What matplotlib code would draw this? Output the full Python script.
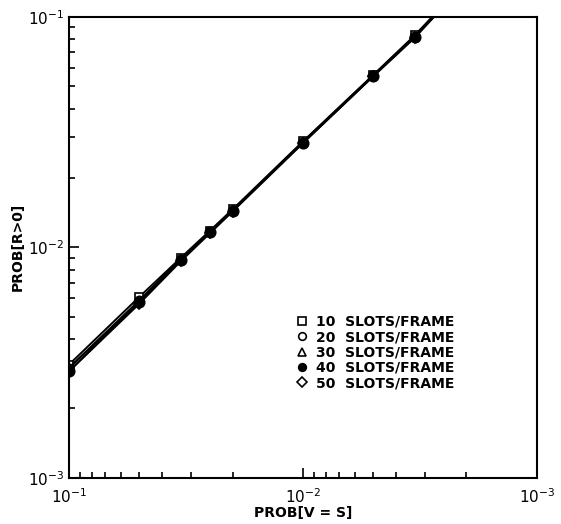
import numpy as np
import matplotlib.pyplot as plt
from matplotlib.lines import Line2D

# PROB[V = S] values (x) and PROB[R > 0] per frame size (y)
prob_vs = [0.1, 0.05, 0.0333, 0.025, 0.02, 0.01, 0.005, 0.00333, 0.0025]
slots_10 = [0.0031, 0.0061, 0.0090, 0.0118, 0.0146, 0.0288, 0.0560, 0.083, 0.113]
slots_20 = [0.0030, 0.0059, 0.0089, 0.0117, 0.0145, 0.0286, 0.0557, 0.082, 0.112]
slots_30 = [0.0030, 0.0058, 0.0088, 0.0116, 0.0144, 0.0285, 0.0555, 0.082, 0.112]
slots_40 = [0.0029, 0.0058, 0.0088, 0.0116, 0.0144, 0.0284, 0.0554, 0.082, 0.111]
slots_50 = [0.0029, 0.0057, 0.0087, 0.0115, 0.0143, 0.0283, 0.0552, 0.081, 0.111]

labels = ["10  SLOTS/FRAME", "20  SLOTS/FRAME", "30  SLOTS/FRAME",
          "40  SLOTS/FRAME", "50  SLOTS/FRAME"]
series = [slots_10, slots_20, slots_30, slots_40, slots_50]
markers = ["s", "o", "^", "o", "D"]
faces = ["white", "white", "white", "black", "white"]
msizes = [6, 6, 6, 7.5, 5.5]
zorders = [2, 2, 2, 4, 3]

fig = plt.figure(figsize=(5.61, 5.24), dpi=100)
ax = fig.add_axes([0.123, 0.088, 0.834, 0.880])

for ys, m, fc, ms, z in zip(series, markers, faces, msizes, zorders):
    ax.plot(prob_vs, ys, color="black", lw=1.4, marker=m, mfc=fc,
            mec="black", ms=ms, mew=1.2, zorder=z)

ax.set_xscale("log")
ax.set_yscale("log")
ax.set_xlim(1e-1, 1e-3)
ax.set_ylim(1e-3, 1e-1)

ax.tick_params(which="both", direction="in", labelsize=11, width=1.2)
ax.tick_params(which="major", length=7)
ax.tick_params(which="minor", length=4)
ax.tick_params(axis="x", which="major", pad=7)
for s in ax.spines.values():
    s.set_linewidth(1.5)

ax.set_xlabel("PROB[V = S]", fontsize=10, fontweight="bold", labelpad=0)
ax.set_ylabel("PROB[R>0]", fontsize=10, fontweight="bold", labelpad=2)

handles = [Line2D([], [], ls="none", marker=m, mfc=fc, mec="black",
                  ms=min(ms, 6) - 0.5, mew=1.2, color="black")
           for m, fc, ms in zip(markers, faces, msizes)]
ax.legend(handles, labels, loc="upper left", bbox_to_anchor=(0.462, 0.378),
          frameon=False, handlelength=0.8, handletextpad=0.6, labelspacing=0.1,
          borderpad=0.3, prop={"size": 10, "weight": "bold"})

plt.savefig("out.png", dpi=100)
